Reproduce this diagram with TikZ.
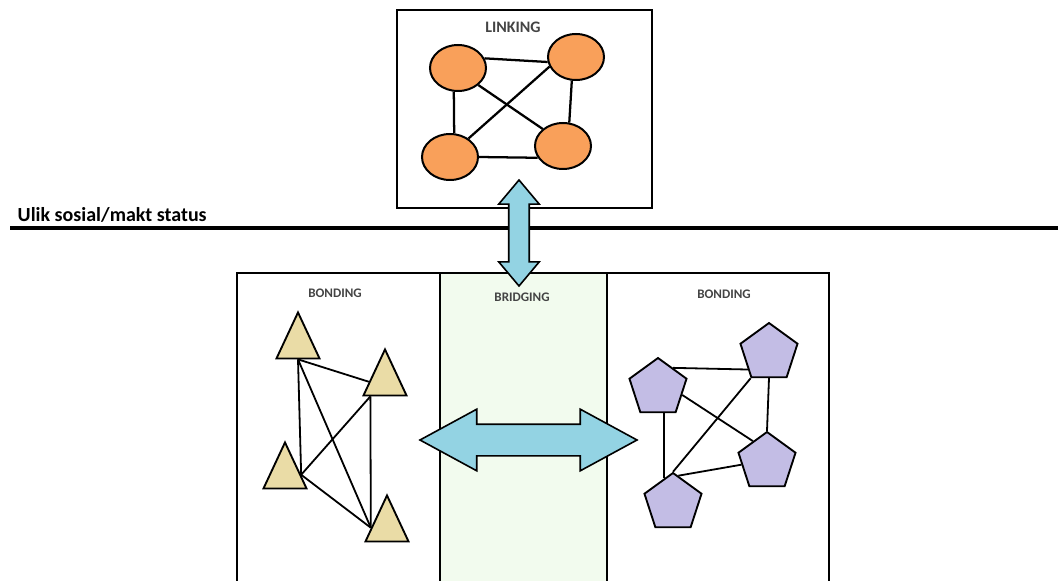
\documentclass[tikz,border=0pt]{standalone}
\usepackage{fontspec}
\setmainfont{Carlito}
\usetikzlibrary{shapes.geometric,shapes.arrows,positioning}

\definecolor{linkorange}{HTML}{F9A05A}
\definecolor{bondtan}{HTML}{EADCA6}
\definecolor{bondlilac}{HTML}{C3BDE5}
\definecolor{arrowblue}{HTML}{93D3E3}
\definecolor{bridgegreen}{HTML}{F2FBEE}
\definecolor{labelgray}{HTML}{444444}

\tikzset{
  box/.style={draw, line width=2.2pt},
  lbl/.style={font=\bfseries\fontsize{9.8}{11}\selectfont, text=labelgray},
  oval/.style={ellipse, draw, line width=1.5pt, fill=linkorange,
    minimum width=42pt, minimum height=34.5pt},
  tri/.style={isosceles triangle, isosceles triangle stretches,
    shape border rotate=90, draw, line width=1.4pt, fill=bondtan,
    minimum width=32.25pt, minimum height=34.5pt, inner sep=0pt},
  penta/.style={regular polygon, regular polygon sides=5, draw,
    line width=1.4pt, fill=bondlilac, minimum size=45pt, inner sep=0pt},
  link/.style={line width=1.7pt},
  tie/.style={line width=1.35pt},
  darrow/.style={double arrow, draw, line width=1.2pt, fill=arrowblue,
    inner xsep=0pt, double arrow head indent=0pt}
}

\begin{document}
\begin{tikzpicture}[x=0.75pt,y=-0.75pt]
  \useasboundingbox (0,0) rectangle (1058,581);

  % status line
  \draw[line width=2.5pt] (10,228) -- (1058,228);
  \node[font=\bfseries\fontsize{15}{18}\selectfont, anchor=base west] (status) at (13,222) {Ulik sosial/makt status};

  % linking
  \draw[box, line width=1.8pt] (397,10) rectangle (652,208);
  \node[lbl, font=\bfseries\fontsize{12}{14}\selectfont] (linklbl) at (513,27) {LINKING};
  \node[oval] (tl) at (458,68) {};
  \node[oval] (tr) at (576,57) {};
  \node[oval] (bl) at (450,157) {};
  \node[oval] (br) at (563,146) {};
  \draw[link] (tl.20) -- (tr.190);
  \draw[link] (tl.260) -- (bl.80);
  \draw[link] (tl.-40) -- (br.140);
  \draw[link] (tr.200) -- (bl.45);
  \draw[link] (tr.260) -- (br.75);
  \draw[link] (bl.0) -- (br.205);

  % bonding and bridging boxes
  \draw[box] (237,273) rectangle (440,600);
  \draw[box] (607,273) rectangle (829,600);
  \draw[box, fill=bridgegreen] (440,273) rectangle (607,600);
  \node[lbl] (bondleft) at (335,293) {BONDING};
  \node[lbl] (bridgelbl) at (522,297) {BRIDGING};
  \node[lbl] (bondright) at (724,294) {BONDING};

  % triangles
  \node[tri, anchor=apex] (t1) at (298,310) {};
  \node[tri, anchor=apex] (t2) at (385,347) {};
  \node[tri, anchor=apex] (t3) at (285,440) {};
  \node[tri, anchor=apex] (t4) at (387,493) {};
  \draw[tie] (t1.south) -- (t2.west);
  \draw[tie] (t1.south) -- (t3.east);
  \draw[tie] (t1.south) -- (t4.west);
  \draw[tie] (t2.south west) -- (t3.east);
  \draw[tie] (t2.south west) -- (t4.west);
  \draw[tie] (t3.east) -- (t4.west);

  % pentagons
  \node[penta] (p1) at (769,353) {};
  \node[penta] (p2) at (658,388) {};
  \node[penta] (p3) at (767,462) {};
  \node[penta] (p4) at (673,503) {};
  \draw[tie] (p2.53) -- (p1.218);
  \draw[tie] (p1.corner 3) -- (p4.corner 1);
  \draw[tie] (p1.south) -- (p3.corner 1);
  \draw[tie] (p2.344) -- (p3.124);
  \draw[tie] (p4.110 |- p2.south) -- (p4.110);
  \draw[tie] (p4.79) -- (p3.186);

  % arrows
  \node[darrow, rotate=90, minimum height=79.5pt, inner ysep=7.1pt,
    double arrow head extend=7.5pt, double arrow tip angle=80] (uparrow) at (519,233) {};
  \node[darrow, minimum height=162.75pt, inner ysep=11.25pt,
    double arrow head extend=11.25pt, double arrow tip angle=57] (sidearrow) at (528.5,440) {};
\end{tikzpicture}
\end{document}
